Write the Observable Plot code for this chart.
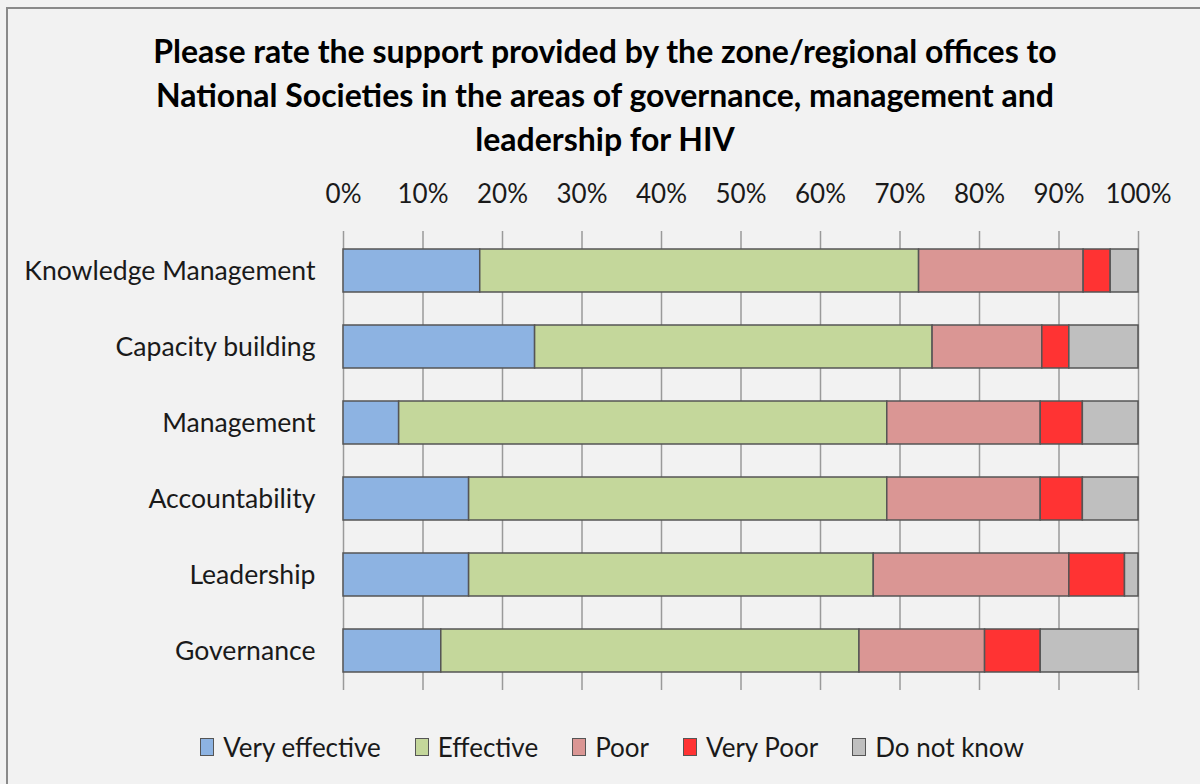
<!DOCTYPE html>
<html>
<head>
<meta charset="utf-8">
<script src="https://cdn.jsdelivr.net/npm/d3@7"></script>
<script src="https://cdn.jsdelivr.net/npm/@observablehq/plot@0.6"></script>
<style>
  html, body { margin: 0; padding: 0; background: #f2f2f2; }
  body { width: 1200px; height: 784px; position: relative; overflow: hidden; font-family: Lato, "Open Sans", sans-serif; color: #1a1a1a; }
  #frame { position: absolute; left: 6px; top: 7px; width: 1300px; height: 900px; border-left: 2px solid #8a8a8a; border-top: 2px solid #8a8a8a; }
  #title { position: absolute; left: 0; top: 29px; width: 1210px; text-align: center; font-weight: bold; font-size: 32px; line-height: 44px; color: #000; }
  #chart { position: absolute; left: 0; top: 160px; }
  #legend { position: absolute; left: 12px; top: 731px; width: 1200px; display: flex; justify-content: center; align-items: center; font-size: 26px; gap: 34px; color: #1a1a1a; }
  .item { display: flex; align-items: center; gap: 9px; }
  .sw { width: 12px; height: 16px; border: 1.5px solid #555; }
</style>
</head>
<body>
<div id="frame"></div>
<div id="title">Please rate the support provided by the zone/regional offices to<br>National Societies in the areas of governance, management and<br>leadership for HIV</div>
<div id="chart"></div>
<div id="legend"></div>
<script>
const categories = ["Knowledge Management", "Capacity building", "Management", "Accountability", "Leadership", "Governance"];
const seriesNames = ["Very effective", "Effective", "Poor", "Very Poor", "Do not know"];
const colors = ["#8db3e2", "#c4d79b", "#da9694", "#ff3333", "#bfbfbf"];
const veryEffective = [17.2, 24.1, 7.0, 15.8, 15.8, 12.3];
const effective     = [55.2, 50.0, 61.4, 52.6, 50.9, 52.6];
const poor          = [20.7, 13.8, 19.3, 19.3, 24.6, 15.8];
const veryPoor      = [3.4, 3.4, 5.3, 5.3, 7.0, 7.0];
const doNotKnow     = [3.5, 8.7, 7.0, 7.0, 1.7, 12.3];
const tickValues = [0, 10, 20, 30, 40, 50, 60, 70, 80, 90, 100];

const seriesValues = [veryEffective, effective, poor, veryPoor, doNotKnow];
const data = [];
seriesNames.forEach((s, si) => {
  categories.forEach((c, ci) => data.push({category: c, series: s, value: seriesValues[si][ci]}));
});

const chart = Plot.plot({
  width: 1200,
  height: 550,
  marginLeft: 343,
  marginRight: 62,
  marginTop: 71,
  marginBottom: 20,
  style: {fontFamily: "Lato, 'Open Sans', sans-serif", fontSize: "26px", color: "#1a1a1a", background: "transparent", overflow: "visible"},
  x: {domain: [0, 100], ticks: tickValues, label: null},
  y: {domain: categories, paddingInner: 0.43, paddingOuter: 0.22, label: null},
  color: {domain: seriesNames, range: colors},
  marks: [
    Plot.gridX(tickValues, {stroke: "#9a9a9a", strokeOpacity: 1, strokeWidth: 1.5}),
    Plot.barX(data, {x: "value", y: "category", fill: "series", z: "series", order: seriesNames, stroke: "#555", strokeWidth: 1.5}),
    Plot.axisX(tickValues, {anchor: "top", tickSize: 0, tickPadding: 29, tickFormat: d => d + "%", fill: "#1a1a1a", label: null}),
    Plot.axisY({anchor: "left", tickSize: 0, tickPadding: 28, fill: "#1a1a1a", fontSize: "26.6px", label: null})
  ]
});
document.getElementById("chart").appendChild(chart);

const legend = document.getElementById("legend");
seriesNames.forEach((s, i) => {
  const it = document.createElement("div");
  it.className = "item";
  const sw = document.createElement("div");
  sw.className = "sw";
  sw.style.background = colors[i];
  const t = document.createElement("span");
  t.textContent = s;
  it.appendChild(sw);
  it.appendChild(t);
  legend.appendChild(it);
});
</script>
</body>
</html>
